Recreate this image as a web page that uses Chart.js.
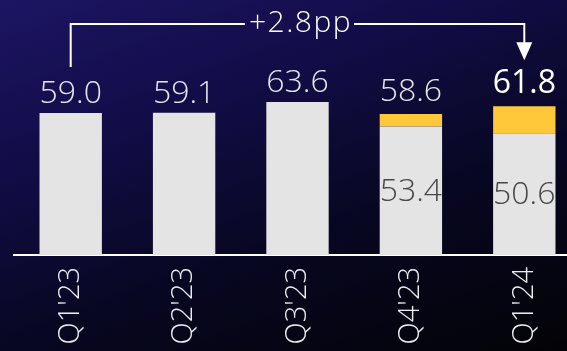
<!DOCTYPE html>
<html>
<head>
<meta charset="utf-8">
<script src="https://cdn.jsdelivr.net/npm/chart.js@4.4.1/dist/chart.umd.min.js"></script>
<style>
  html, body { margin: 0; padding: 0; overflow: hidden; }
  body {
    width: 567px; height: 351px;
    background: linear-gradient(160deg, #1c1563 0%, #120d48 30%, #080722 62%, #030306 100%);
  }
  /* plot runs a bit past the right edge of the slide, like the original */
  #wrap { position: relative; width: 581px; height: 351px; }
</style>
</head>
<body>
<div id="wrap"><canvas id="chart"></canvas></div>
<script>
// quarters and values
const quarters = ["Q1'23", "Q2'23", "Q3'23", "Q4'23", "Q1'24"];
const baseValues = [59.0, 59.1, 63.6, 53.4, 50.6];
const topValues = [null, null, null, 5.2, 11.2];
const totalLabels = ['59.0', '59.1', '63.6', '58.6', '61.8'];
const innerLabels = [null, null, null, '53.4', '50.6'];
const bracketFrom = 0;
const bracketTo = 4;
const bracketText = '+2.8pp';

const FONT = '"Open Sans", "DejaVu Sans", sans-serif';

// labels above bars, inside labels and the +pp bracket
const annotatePlugin = {
    id: 'annotate',
    afterDatasetsDraw(chart) {
        const { ctx, scales: { x, y }, chartArea } = chart;
        ctx.save();

        quarters.forEach((q, i) => {
            const total = baseValues[i] + (topValues[i] || 0);
            const cx = x.getPixelForValue(i);
            const top = y.getPixelForValue(total);
            const last = i === quarters.length - 1;
            ctx.font = (last ? '400 ' : '300 ') + '32px ' + FONT;
            ctx.fillStyle = last ? '#ffffff' : '#e6e6ea';
            ctx.textAlign = 'center';
            ctx.textBaseline = 'alphabetic';
            ctx.fillText(totalLabels[i], cx, top - (topValues[i] ? 13 : 10));

            if (innerLabels[i]) {
                ctx.font = '300 32px ' + FONT;
                ctx.fillStyle = '#474747';
                ctx.textBaseline = 'middle';
                ctx.fillText(innerLabels[i], cx, y.getPixelForValue(baseValues[i] / 2) + 1);
            }
        });

        // bracket from first to last quarter
        const x0 = x.getPixelForValue(bracketFrom);
        const x1 = x.getPixelForValue(bracketTo);
        const lineY = chartArea.top + 24;
        const labelTop = i => y.getPixelForValue(baseValues[i] + (topValues[i] || 0)) - (topValues[i] ? 13 : 10) - 23;
        const leftEnd = labelTop(bracketFrom) - 13;
        const tipY = labelTop(bracketTo) - 10;

        ctx.font = '300 30px ' + FONT;
        ctx.letterSpacing = '1.5px';
        const tw = ctx.measureText(bracketText).width;
        const mid = (x0 + x1) / 2 + 2;
        const gap = 3;

        ctx.strokeStyle = '#ffffff';
        ctx.lineWidth = 2;
        ctx.beginPath();
        ctx.moveTo(x0, leftEnd);
        ctx.lineTo(x0, lineY);
        ctx.lineTo(mid - tw / 2 - gap, lineY);
        ctx.moveTo(mid + tw / 2 + gap, lineY);
        ctx.lineTo(x1, lineY);
        ctx.lineTo(x1, tipY - 17);
        ctx.stroke();

        ctx.fillStyle = '#ffffff';
        ctx.beginPath();
        ctx.moveTo(x1 - 8, tipY - 18);
        ctx.lineTo(x1 + 8, tipY - 18);
        ctx.lineTo(x1, tipY);
        ctx.closePath();
        ctx.fill();

        ctx.textAlign = 'center';
        ctx.textBaseline = 'middle';
        ctx.fillText(bracketText, mid + 1, lineY - 1);
        ctx.restore();
    }
};

new Chart(document.getElementById('chart'), {
    type: 'bar',
    data: {
        labels: quarters,
        datasets: [
            {
                label: 'base',
                data: baseValues,
                backgroundColor: '#e4e4e4',
                categoryPercentage: 1,
                barPercentage: 0.55
            },
            {
                label: 'top',
                data: topValues,
                backgroundColor: '#fec83a',
                categoryPercentage: 1,
                barPercentage: 0.55
            }
        ]
    },
    options: {
        responsive: true,
        maintainAspectRatio: false,
        animation: false,
        layout: { padding: { left: 14, right: 0, top: 0, bottom: 0 } },
        plugins: {
            legend: { display: false },
            tooltip: { enabled: false }
        },
        scales: {
            x: {
                stacked: true,
                grid: { display: false, drawTicks: false },
                border: { display: true, color: '#ffffff', width: 2 },
                ticks: {
                    color: '#ececf0',
                    font: { family: FONT, size: 29, weight: '300' },
                    minRotation: 90,
                    maxRotation: 90,
                    autoSkip: false,
                    padding: 12
                },
                afterFit(scale) { scale.height = 96; }
            },
            y: {
                stacked: true,
                display: false,
                min: 0,
                max: 106
            }
        }
    },
    plugins: [annotatePlugin]
});
</script>
</body>
</html>
